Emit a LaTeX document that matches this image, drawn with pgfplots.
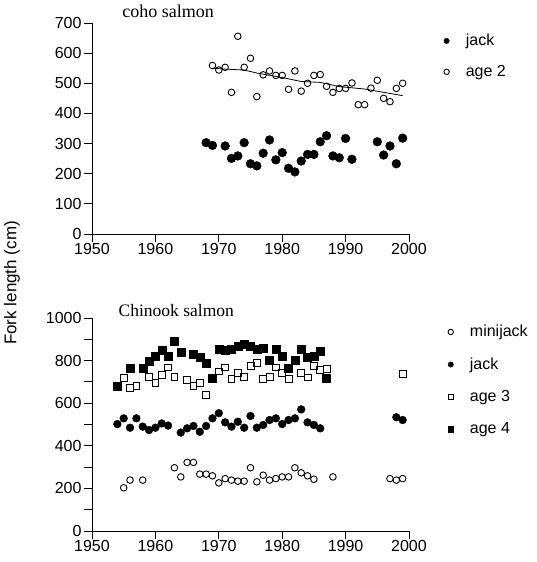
\documentclass[border=0pt]{standalone}
\usepackage{fontspec}
\setmainfont{Liberation Sans}
\newfontfamily\titlefont{Liberation Serif}
\usepackage{pgfplots}
\pgfplotsset{compat=1.18}

\pgfplotsset{
  salmon/.style={
    scale only axis,
    width=317pt,
    axis lines=left,
    axis line style={-, line width=1pt},
    tick align=outside,
    major tick length=8pt,
    minor tick length=8pt,
    tick style={line width=0.9pt, black},
    xmin=1950, xmax=2000,
    xtick={1950,1960,...,2000},
    ymin=0,
    clip=false,
    font=\fontsize{16}{18}\selectfont,
    tick label style={font=\fontsize{16}{18}\selectfont},
    /pgf/number format/assume math mode=true,
    /pgf/number format/1000 sep={},
    xticklabel style={yshift=2pt},
    yticklabel style={xshift=1pt},
    legend cell align=left,
    legend style={draw=none, fill=none, anchor=north west,
      font=\fontsize{16}{18}\selectfont, row sep=14pt},
    legend image code/.code={\path (-6pt,0pt) (17pt,0pt);
      \draw[#1,mark size=2.7pt] plot coordinates {(0pt,0pt)};},
  },
  opencirc/.style={only marks, mark=o, mark size=3.3pt, mark options={line width=0.9pt, black}},
  fillcirc/.style={only marks, mark=*, mark options={black, fill=black}},
}

\begin{document}
\begin{tikzpicture}[x=1pt,y=1pt]
\useasboundingbox (0,0) rectangle (537,-562);

% coho salmon
\begin{axis}[salmon,
  at={(92pt,-234pt)}, anchor=south west,
  height=211pt, ymax=700, ytick={0,100,...,700},
  legend style={at={(axis description cs:1.089,0.966)}},
]
\addplot[fillcirc, mark size=4.4pt] coordinates {
(1968,303)(1969,294)(1971,292)(1972,251)(1973,259)(1974,303)(1975,233)
(1976,226)(1977,268)(1978,312)(1979,246)(1980,270)(1981,218)(1982,206)
(1983,242)(1984,264)(1985,264)(1986,306)(1987,326)(1988,259)(1989,253)
(1990,317)(1991,248)(1995,306)(1996,262)(1997,292)(1998,233)(1999,318)
};
\addlegendentry{jack}
\addplot[opencirc] coordinates {
(1969,559)(1970,544)(1971,553)(1972,470)(1973,656)(1974,553)(1975,583)
(1976,456)(1977,528)(1978,541)(1979,526)(1980,526)(1981,480)(1982,541)
(1983,474)(1984,500)(1985,526)(1986,529)(1987,490)(1988,470)(1989,483)
(1990,483)(1991,501)(1992,429)(1993,429)(1994,484)(1995,510)(1996,450)
(1997,439)(1998,483)(1999,500)
};
\addlegendentry{age 2}
\addplot[no marks, black, line width=0.8pt, forget plot] coordinates {
(1969,550)(1971,547)(1974,544)(1976,534)(1980,519)(1983,506)(1986,503)
(1989,489)(1993,481)(1996,470)(1999,459)
};
\node[anchor=base west, font=\titlefont\fontsize{18}{20}\selectfont]
  at (rel axis cs:0.085,1) [yshift=6pt] {coho salmon};
\end{axis}

% Chinook salmon
\begin{axis}[salmon,
  at={(92pt,-531pt)}, anchor=south west,
  height=213pt, ymax=1000, ytick={0,200,...,1000}, minor ytick={100,300,...,900},
  legend style={at={(axis description cs:1.102,0.985)}, row sep=15.5pt},
]
\addplot[opencirc] coordinates {
(1955,203)(1956,239)(1958,239)(1963,297)(1964,254)(1965,322)(1966,322)
(1967,267)(1968,267)(1969,259)(1970,226)(1971,246)(1972,239)(1973,234)
(1974,234)(1975,297)(1976,231)(1977,262)(1978,239)(1979,246)(1980,254)
(1981,254)(1982,297)(1983,273)(1984,259)(1985,243)(1988,254)(1997,246)
(1998,239)(1999,246)
};
\addlegendentry{minijack}
\addplot[fillcirc, mark size=3.9pt] coordinates {
(1954,502)(1955,529)(1956,485)(1957,529)(1958,490)(1959,474)(1960,485)
(1961,505)(1962,495)(1964,462)(1965,482)(1966,493)(1967,466)(1968,493)
(1969,529)(1970,553)(1971,510)(1972,490)(1973,513)(1974,485)(1975,540)
(1976,485)(1977,498)(1978,521)(1979,529)(1980,502)(1981,521)(1982,529)
(1983,571)(1984,510)(1985,498)(1986,482)(1998,534)(1999,521)
};
\addlegendentry{jack}
\addplot[only marks, mark=square, mark size=3.4pt, mark options={line width=0.8pt, black}] coordinates {
(1955,717)(1956,670)(1957,681)(1959,725)(1960,694)(1961,733)(1962,768)
(1963,725)(1965,710)(1966,681)(1967,697)(1968,639)(1970,749)(1971,768)
(1972,713)(1973,741)(1974,725)(1975,774)(1976,788)(1977,713)(1978,725)
(1979,768)(1980,741)(1981,713)(1983,741)(1984,721)(1985,777)(1986,757)
(1987,760)(1999,738)
};
\addlegendentry{age 3}
\addplot[only marks, mark=square*, mark size=4pt, mark options={black, fill=black}] coordinates {
(1954,678)(1956,765)(1958,765)(1959,799)(1960,823)(1961,849)(1962,823)
(1963,890)(1964,838)(1966,832)(1967,816)(1968,788)(1969,717)(1970,852)
(1971,849)(1972,854)(1973,867)(1974,875)(1975,867)(1976,852)(1977,860)
(1978,801)(1979,852)(1980,823)(1981,765)(1982,804)(1983,852)(1984,816)
(1985,823)(1986,843)(1987,717)
};
\addlegendentry{age 4}
\node[anchor=base west, font=\titlefont\fontsize{17.5}{20}\selectfont]
  at (rel axis cs:0.073,1) [yshift=2pt] {Chinook salmon};
\end{axis}

\node[rotate=90, font=\fontsize{17}{19}\selectfont] at (12,-283) {Fork length (cm)};
\end{tikzpicture}
\end{document}
